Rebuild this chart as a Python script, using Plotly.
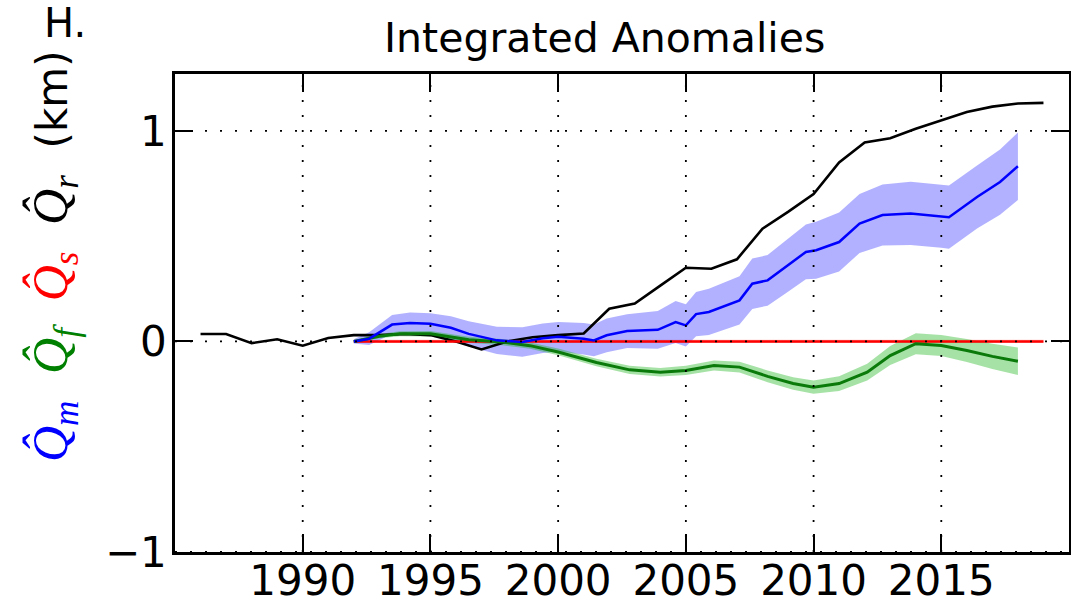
import plotly.graph_objects as go

# ---------------- data ----------------
x_ticks = [1990, 1995, 2000, 2005, 2010, 2015]
y_ticks = [-1, 0, 1]

years_r = list(range(1986, 2020))
q_r = [0.035, 0.035, -0.008, 0.01, -0.02, 0.016, 0.03, 0.03, 0.035, 0.03,
       0.0, -0.038, 0.0, 0.02, 0.03, 0.038, 0.155, 0.18, 0.265, 0.35,
       0.345, 0.39, 0.535, 0.615, 0.70, 0.85, 0.945, 0.965, 1.01, 1.05,
       1.09, 1.115, 1.13, 1.133]

t_m = [1992.0, 1992.6, 1993.5, 1994.2, 1995.0, 1995.8, 1996.5, 1997.6, 1998.6,
       1999.4, 2000.0, 2001.0, 2001.4, 2001.9, 2002.7, 2003.9, 2004.6, 2005.0,
       2005.4, 2005.9, 2007.1, 2007.6, 2008.2, 2008.9, 2009.7, 2010.1, 2011.0,
       2011.8, 2012.7, 2013.8, 2015.0, 2015.3, 2016.4, 2017.3, 2018.0]
q_m = [0.0, 0.013, 0.08, 0.087, 0.084, 0.065, 0.036, 0.005, -0.003,
       0.015, 0.022, 0.013, 0.005, 0.029, 0.049, 0.055, 0.092, 0.076,
       0.13, 0.14, 0.195, 0.274, 0.29, 0.353, 0.425, 0.433, 0.472,
       0.56, 0.60, 0.608, 0.595, 0.59, 0.686, 0.757, 0.832]
q_m_err = [0.01, 0.03, 0.045, 0.05, 0.05, 0.055, 0.06, 0.065, 0.07,
           0.07, 0.07, 0.075, 0.075, 0.08, 0.08, 0.09, 0.10, 0.10,
           0.105, 0.11, 0.115, 0.12, 0.12, 0.125, 0.13, 0.135, 0.14,
           0.14, 0.145, 0.15, 0.15, 0.15, 0.15, 0.155, 0.16]

t_f = [1992.0, 1993.0, 1993.8, 1995.0, 1996.5, 1997.8, 1998.9, 2000.0, 2001.5,
       2002.8, 2004.0, 2005.0, 2006.1, 2007.1, 2008.2, 2009.2, 2010.0, 2011.0,
       2012.1, 2013.0, 2014.0, 2015.0, 2016.0, 2017.0, 2018.0]
q_f = [0.0, 0.025, 0.036, 0.036, 0.008, -0.003, -0.02, -0.05, -0.10,
       -0.135, -0.146, -0.138, -0.114, -0.122, -0.166, -0.2, -0.217, -0.2,
       -0.146, -0.067, -0.011, -0.019, -0.043, -0.071, -0.094]
q_f_err = [0.005, 0.01, 0.012, 0.013, 0.014, 0.015, 0.015, 0.016, 0.018,
           0.02, 0.02, 0.022, 0.024, 0.026, 0.028, 0.03, 0.032, 0.035,
           0.04, 0.045, 0.05, 0.05, 0.055, 0.06, 0.065]

years_s = list(range(1992, 2020))
q_s = [0.0] * len(years_s)
q_s_err = [0.008] * len(years_s)


def band(t, v, e):
    xs = list(t) + list(t)[::-1]
    ys = [a + b for a, b in zip(v, e)] + [a - b for a, b in zip(v, e)][::-1]
    return xs, ys


fig = go.Figure()

bx, by = band(years_s, q_s, q_s_err)
fig.add_trace(go.Scatter(x=bx, y=by, fill="toself", fillcolor="rgba(255,0,0,0.25)",
                         line=dict(width=0), mode="lines", hoverinfo="skip"))
bx, by = band(t_m, q_m, q_m_err)
fig.add_trace(go.Scatter(x=bx, y=by, fill="toself", fillcolor="rgba(40,40,255,0.36)",
                         line=dict(width=0), mode="lines", hoverinfo="skip"))
bx, by = band(t_f, q_f, q_f_err)
fig.add_trace(go.Scatter(x=bx, y=by, fill="toself", fillcolor="rgba(20,180,20,0.38)",
                         line=dict(width=0), mode="lines", hoverinfo="skip"))

fig.add_trace(go.Scatter(x=years_r, y=q_r, mode="lines", line=dict(color="black", width=2.6)))
fig.add_trace(go.Scatter(x=years_s, y=q_s, mode="lines", line=dict(color="#ff0000", width=2.5)))
fig.add_trace(go.Scatter(x=t_f, y=q_f, mode="lines", line=dict(color="#0a7a0a", width=3)))
fig.add_trace(go.Scatter(x=t_m, y=q_m, mode="lines", line=dict(color="#0000ff", width=2.5)))

# dotted grid drawn above the traces (as in old matplotlib)
shapes = []
for xv in x_ticks:
    shapes.append(dict(type="line", xref="x", yref="paper", x0=xv, x1=xv, y0=0, y1=1,
                       layer="above", line=dict(color="black", width=1.8, dash="2px,13px")))
for yv in y_ticks:
    shapes.append(dict(type="line", xref="paper", yref="y", x0=0, x1=1, y0=yv, y1=yv,
                       layer="above", line=dict(color="black", width=1.8, dash="2px,13px")))

font_main = "DejaVu Sans"


def q(sub, color):
    return (f"<span style='color:{color};font-family:\"Liberation Serif\",serif;font-size:50px'>"
            f"<i>Q&#770;</i><sub><i>{sub}</i></sub></span>")


ylabel = (q("m", "#0000ff") + "  " + q("f", "#008000") + "  " + q("s", "#ff0000") + "  "
          + q("r", "black") + "  <span style='font-size:42px'>(km)</span>")

L, R, T, B = 175, 2, 74, 60
PW = 1071 - L - R
PH = 612 - T - B

fig.update_layout(
    width=1071, height=612,
    margin=dict(l=L, r=R, t=T, b=B, autoexpand=False),
    paper_bgcolor="white", plot_bgcolor="white",
    showlegend=False,
    font=dict(family=font_main, color="black", size=42),
    shapes=shapes,
    xaxis=dict(range=[1985, 2020], tickvals=x_ticks, ticks="inside", ticklen=18, tickwidth=1.6,
               tickcolor="black", showline=True, linecolor="black", linewidth=2.5, mirror="ticks",
               showgrid=False, zeroline=False, tickfont=dict(size=42), automargin=False,
               ticklabelstandoff=-10, layer="above traces"),
    yaxis=dict(range=[-1, 1.27], tickvals=y_ticks, ticktext=["\u22121", "0", "1"], ticks="inside",
               ticklen=18, tickwidth=1.6, tickcolor="black", showline=True, linecolor="black",
               linewidth=2.5, mirror="ticks", showgrid=False, zeroline=False,
               tickfont=dict(size=42), ticklabelstandoff=-3, automargin=False,
               layer="above traces"),
    annotations=[
        dict(text="Integrated Anomalies", xref="paper", yref="paper", x=(604 - L) / PW,
             y=(612 - B - 38) / PH, xanchor="center", yanchor="middle", showarrow=False,
             font=dict(size=41)),
        dict(text="H.", xref="paper", yref="paper", x=(42 - L) / PW, y=(612 - B + 2) / PH,
             xanchor="left", yanchor="top", showarrow=False,
             font=dict(size=40, family="DejaVu Sans", color="black")),
        dict(text=ylabel, xref="paper", yref="paper", x=(54 - L) / PW, y=(612 - B - 256) / PH,
             xanchor="center", yanchor="middle", showarrow=False, textangle=-90,
             font=dict(size=42)),
    ],
)

fig.write_html(
    "out.html",
    config={"displayModeBar": False},
    post_script="document.body.style.margin='0';document.body.style.overflow='hidden';",
)
